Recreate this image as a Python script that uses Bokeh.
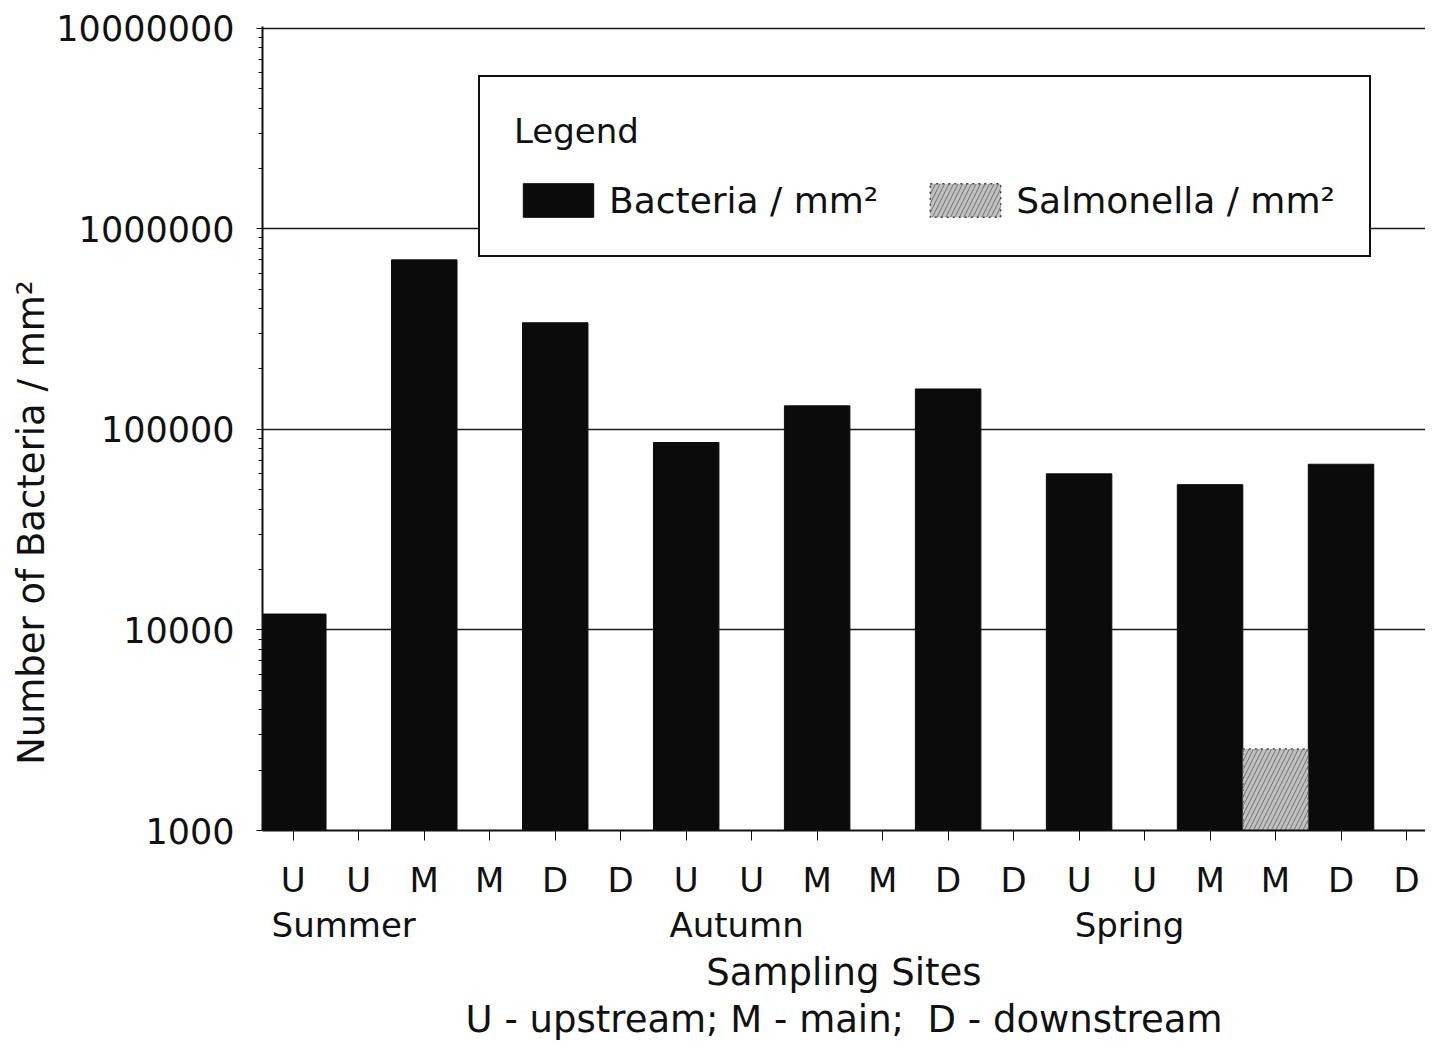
from bokeh.plotting import figure
from bokeh.models import FixedTicker, Legend, LegendItem, LinearAxis, Range1d
from bokeh.embed import file_html
from bokeh.resources import INLINE

# ---- data ----
site_labels = ["U", "U", "M", "M", "D", "D",
               "U", "U", "M", "M", "D", "D",
               "U", "U", "M", "M", "D", "D"]
seasons = ["Summer", "Autumn", "Spring"]
season_first_site = [0, 6, 12]

bacteria_site = [0, 2, 4, 6, 8, 10, 12, 14, 16]
bacteria_per_mm2 = [12000, 700000, 340000, 86000, 131000, 159000, 60000, 53000, 67000]

salmonella_site = [15]
salmonella_per_mm2 = [2550]

y_ticks = [1000, 10000, 100000, 1000000, 10000000]
y_tick_labels = ["1000", "10000", "100000", "1000000", "10000000"]
y_minor = [k * 10 ** d for d in range(3, 7) for k in range(2, 10)]

x_title = "Sampling Sites"
x_subtitle = "U - upstream; M - main;\u00a0 D - downstream"
y_title = "Number of Bacteria / mm²"

FONT = "DejaVu Sans"
INK = "#111111"

p = figure(width=1425, height=1043, y_axis_type="log",
           x_range=Range1d(-0.47, 17.29), y_range=Range1d(1000, 1.02e7),
           output_backend="svg", toolbar_location=None,
           min_border_left=262, min_border_right=0,
           min_border_top=26, min_border_bottom=212)
p.outline_line_color = None
p.background_fill_color = "white"
p.border_fill_color = "white"

# bars
bact = p.vbar(x=bacteria_site, top=bacteria_per_mm2, bottom=1000, width=1.0,
              fill_color="#0b0b0b", line_color="#0b0b0b")
salm = p.vbar(x=salmonella_site, top=salmonella_per_mm2, bottom=1000, width=1.0,
              fill_color="#c0c0c0", line_color="#444444", line_width=1.5,
              line_dash="dotted",
              hatch_pattern="/", hatch_color="#707070", hatch_scale=9, hatch_weight=1)

# y axis
ya = p.yaxis[0]
ya.ticker = FixedTicker(ticks=y_ticks, minor_ticks=y_minor)
ya.major_label_overrides = {t: l for t, l in zip(y_ticks, y_tick_labels)}
ya.major_label_text_font = FONT
ya.major_label_text_font_size = "35px"
ya.major_label_text_color = INK
ya.major_label_standoff = 22
ya.major_tick_out = 6
ya.major_tick_in = 0
ya.minor_tick_out = 4
ya.minor_tick_in = 0
ya.axis_line_width = 2
ya.axis_line_color = INK
ya.major_tick_line_color = INK
ya.minor_tick_line_color = INK
# trailing no-break spaces move the visible title down, as in the reference
ya.axis_label = y_title + "\u00a0" * 16
ya.axis_label_standoff = 0
ya.axis_label_text_font = FONT
ya.axis_label_text_font_size = "37px"
ya.axis_label_text_font_style = "normal"
ya.axis_label_text_color = INK

# x axis: sites
xa = p.xaxis[0]
xa.ticker = FixedTicker(ticks=list(range(len(site_labels))), minor_ticks=[])
xa.major_label_overrides = {i: s for i, s in enumerate(site_labels)}
xa.major_label_text_font = FONT
xa.major_label_text_font_size = "34px"
xa.major_label_text_color = INK
xa.major_label_standoff = 19
xa.major_tick_out = 10
xa.major_tick_in = 0
xa.axis_line_width = 2
xa.axis_line_color = INK
xa.major_tick_line_color = INK
xa.axis_label = None

# x axis: seasons + title
season_centers = [i + 0.77 for i in season_first_site]
sa = LinearAxis(ticker=FixedTicker(ticks=season_centers, minor_ticks=[]),
                major_label_overrides={c: s for c, s in zip(season_centers, seasons)},
                axis_line_color=None, major_tick_line_color=None,
                minor_tick_line_color=None, major_tick_out=0, major_tick_in=0,
                minor_tick_out=0, minor_tick_in=0,
                major_label_standoff=2, major_label_text_font=FONT,
                major_label_text_font_size="34px", major_label_text_color=INK,
                axis_label=x_title, axis_label_standoff=3,
                axis_label_text_font=FONT, axis_label_text_font_size="37px",
                axis_label_text_font_style="normal", axis_label_text_color=INK)
p.add_layout(sa, "below")

# x axis: legend of site codes
ca = LinearAxis(ticker=FixedTicker(ticks=[], minor_ticks=[]),
                axis_line_color=None, major_tick_line_color=None,
                minor_tick_line_color=None, major_tick_out=0, major_tick_in=0,
                minor_tick_out=0, minor_tick_in=0,
                axis_label=x_subtitle, axis_label_standoff=1,
                axis_label_text_font=FONT, axis_label_text_font_size="37px",
                axis_label_text_font_style="normal", axis_label_text_color=INK)
p.add_layout(ca, "below")

# grid
p.xgrid.visible = False
p.ygrid.ticker = FixedTicker(ticks=y_ticks)
p.ygrid.grid_line_color = "#1a1a1a"
p.ygrid.grid_line_width = 1.6

# legend
legend = Legend(items=[LegendItem(label="Bacteria / mm²", renderers=[bact]),
                       LegendItem(label="Salmonella / mm²", renderers=[salm])],
                location=(216, 573), orientation="horizontal",
                title="Legend", title_text_font=FONT, title_text_font_size="34px",
                title_text_font_style="normal", title_text_color=INK,
                title_standoff=28,
                label_text_font=FONT, label_text_font_size="36px",
                label_text_color=INK,
                glyph_width=88, glyph_height=42, label_standoff=7,
                spacing=43, padding=34, margin=0,
                border_line_color=INK, border_line_width=2, border_line_alpha=1.0,
                background_fill_color="white", background_fill_alpha=1.0)
p.add_layout(legend)

open("out.html", "w").write(file_html(p, INLINE))
